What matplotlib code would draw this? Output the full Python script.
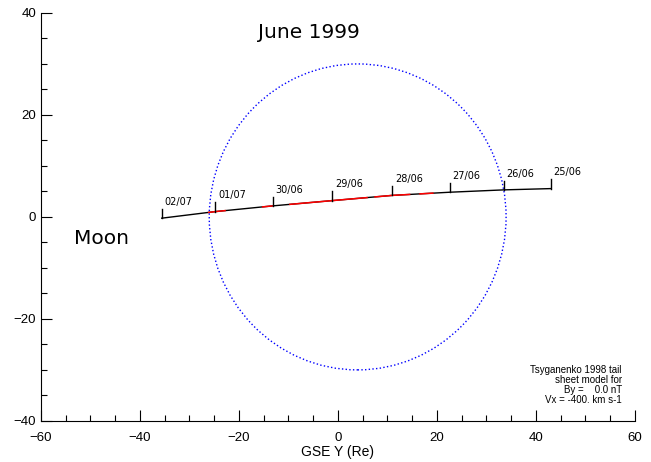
import numpy as np
import matplotlib.pyplot as plt
from matplotlib.patches import Circle
from matplotlib.ticker import MultipleLocator

plt.rcParams['font.family'] = ['Liberation Sans', 'DejaVu Sans']

# Moon track, GSE coordinates (Re), one point per day
dates  = ['25/06', '26/06', '27/06', '28/06', '29/06', '30/06', '01/07', '02/07']
moon_x = [43.0, 33.5, 22.6, 11.0, -1.1, -13.2, -24.8, -35.6]
moon_y = [5.55, 5.3, 4.84, 4.22, 3.2, 2.16, 1.04, -0.25]

# stretches of the track inside the tail sheet (x start, x end)
sheet_x0 = [-26.1, -15.2, -9.7, 7.5, 16.6]
sheet_x1 = [-22.8, -13.3, 5.9, 14.5, 19.2]

# magnetopause cross-section
mp_centre = (4.0, 0.0)
mp_radius = 30.0

fig = plt.figure(figsize=(6.51, 4.62), dpi=100)
ax = fig.add_axes([0.063, 0.089, 0.912, 0.883])

ax.add_patch(Circle(mp_centre, mp_radius, fill=False, edgecolor='blue',
                    linestyle=':', linewidth=1.0))

ax.plot(moon_x, moon_y, color='black', linewidth=1.0)

# track is stored east->west, np.interp wants increasing x
xs = np.array(moon_x[::-1])
ys = np.array(moon_y[::-1])
for a, b in zip(sheet_x0, sheet_x1):
    seg_x = np.concatenate(([a], xs[(xs > a) & (xs < b)], [b]))
    seg_y = np.interp(seg_x, xs, ys)
    ax.plot(seg_x, seg_y, color='red', linewidth=1.1)

# day markers
for d, x, y in zip(dates, moon_x, moon_y):
    ax.plot([x, x], [y, y + 1.8], color='black', linewidth=1.0)
    ax.annotate(d, (x, y + 1.8), xytext=(2, 1.5), textcoords='offset points',
                fontsize=7, family='DejaVu Sans', ha='left', va='bottom')

ax.text(-5.9, 36.2, 'June 1999', fontsize=14.5, family='DejaVu Sans',
        ha='center', va='center')
ax.text(-53.3, -4.3, 'Moon', fontsize=14.5, family='DejaVu Sans',
        ha='left', va='center')

ax.text(0.978, 0.038, 'Tsyganenko 1998 tail\nsheet model for\nBy =    0.0 nT\nVx = -400. km s-1',
        transform=ax.transAxes, fontsize=7, ha='right', va='bottom',
        linespacing=1.0)

ax.set_xlim(-60, 60)
ax.set_ylim(-40, 40)
ax.xaxis.set_major_locator(MultipleLocator(20))
ax.xaxis.set_minor_locator(MultipleLocator(5))
ax.yaxis.set_major_locator(MultipleLocator(20))
ax.yaxis.set_minor_locator(MultipleLocator(5))
ax.tick_params(which='both', direction='in', labelsize=9.5, width=0.8)
ax.tick_params(which='major', length=8)
ax.tick_params(which='minor', length=4.3)
ax.tick_params(axis='x', pad=8)
ax.spines['top'].set_visible(False)
ax.spines['right'].set_visible(False)
ax.set_xlabel('GSE Y (Re)', fontsize=10, labelpad=1)

fig.savefig('out.png', dpi=100)
